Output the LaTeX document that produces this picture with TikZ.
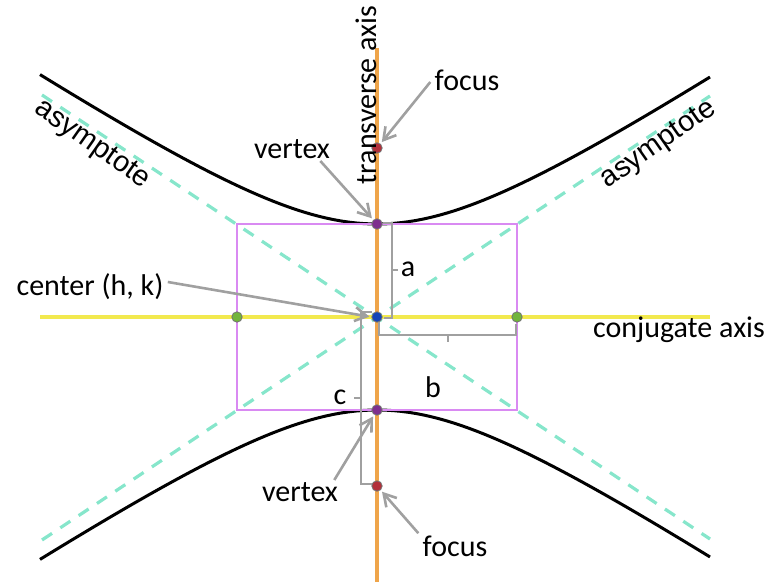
\documentclass[tikz,border=0pt]{standalone}
\usepackage{fontspec}
\setmainfont{Carlito}
\newfontfamily\asymfont{Liberation Sans}
\usetikzlibrary{arrows.meta}
\definecolor{axisorange}{HTML}{EFA54A}
\definecolor{axisyellow}{HTML}{F2E94E}
\definecolor{boxviolet}{HTML}{D98AF2}
\definecolor{asymteal}{HTML}{86E6CB}
\definecolor{pointergray}{HTML}{A0A0A0}
\definecolor{focusred}{HTML}{B3303A}
\definecolor{vertexpurple}{HTML}{7E2F8E}
\definecolor{centerblue}{HTML}{1444B8}
\definecolor{covgreen}{HTML}{72B43C}

\begin{document}
\begin{tikzpicture}[
  x=0.5pt, y=-0.5pt,
  dot/.style={circle, draw=black!55, line width=0.4pt, inner sep=0pt, minimum size=5.2pt},
  pointer/.style={draw=pointergray, line width=1.3pt, -{Straight Barb[length=6pt,width=7pt]}, shorten >=1pt},
  bracket/.style={draw=pointergray, line width=1.3pt},
  lbl/.style={font=\fontsize{15}{18}\selectfont, inner sep=0pt},
  asym/.style={font=\asymfont\fontsize{14.5}{17}\selectfont, inner sep=0pt}
]
  \useasboundingbox (0,0) rectangle (783,582);

  \draw[asymteal, line width=1.6pt, dash pattern=on 6pt off 5pt] (42,95) -- (710,539);
  \draw[asymteal, line width=1.6pt, dash pattern=on 6pt off 5pt] (42,540) -- (710,96);
  \draw[boxviolet, line width=1.1pt] (237,224) rectangle (517,410);
  \draw[axisyellow, line width=1.8pt] (40,317) -- (710,317);
  \draw[axisorange, line width=1.6pt] (377,48) -- (377,582);
  \draw[black, line width=1.5pt] plot[domain=-337:333, samples=90] ({377+\x},{317-93*sqrt(1+(\x/140)^2)});
  \draw[black, line width=1.5pt] plot[domain=-337:333, samples=90] ({377+\x},{317+93*sqrt(1+(\x/140)^2)});
  \draw[boxviolet, line width=1.1pt] (300,224) -- (455,224) (300,410) -- (455,410);

  \draw[bracket] (383,223) -- (392,223) -- (392,318) -- (384,318) (392,270) -- (398,270);
  \draw[bracket] (379,321) -- (379,335) -- (516,335) -- (516,324) (448,335) -- (448,342);
  \draw[bracket] (372,312) -- (361,312) -- (361,484) -- (373,484) (361,398) -- (354,398);

  \node[dot, fill=focusred] (focT) at (377,148) {};
  \node[dot, fill=focusred] (focB) at (377,486) {};
  \node[dot, fill=vertexpurple] (vtxT) at (377,224) {};
  \node[dot, fill=vertexpurple] (vtxB) at (377,410) {};
  \node[dot, fill=centerblue] (ctr) at (377,317) {};
  \node[dot, fill=covgreen] (covL) at (237,317) {};
  \node[dot, fill=covgreen] (covR) at (517,317) {};

  \node[lbl, rotate=90] (transLbl) at (366,95) {transverse axis};
  \node[lbl] (conjLbl) at (679,330) {conjugate axis};
  \node[asym, rotate=-35] (asymL) at (92,145) {asymptote};
  \node[asym, rotate=35] (asymR) at (659,145) {asymptote};
  \node[lbl] (focTLbl) at (467,80) {focus};
  \node[lbl] (focBLbl) at (455,546) {focus};
  \node[lbl] (vtxTLbl) at (292,149) {vertex};
  \node[lbl] (vtxBLbl) at (300,492) {vertex};
  \node[lbl] (ctrLbl) at (90,287) {center (h, k)};
  \node[lbl] (aLbl) at (408,269) {a};
  \node[lbl] (bLbl) at (433,387) {b};
  \node[lbl] (cLbl) at (340,397) {c};

  \draw[pointer] (focTLbl.west) ++(-4,2) -- (focT);
  \draw[pointer] (vtxTLbl.south east) ++(-10,2) -- (vtxT);
  \draw[pointer] (ctrLbl.east) ++(4,-5) -- (ctr.west);
  \draw[pointer] (vtxBLbl.north east) ++(-4,-2) -- (vtxB);
  \draw[pointer] (focBLbl.north west) ++(-4,-2) -- (focB);
\end{tikzpicture}
\end{document}
